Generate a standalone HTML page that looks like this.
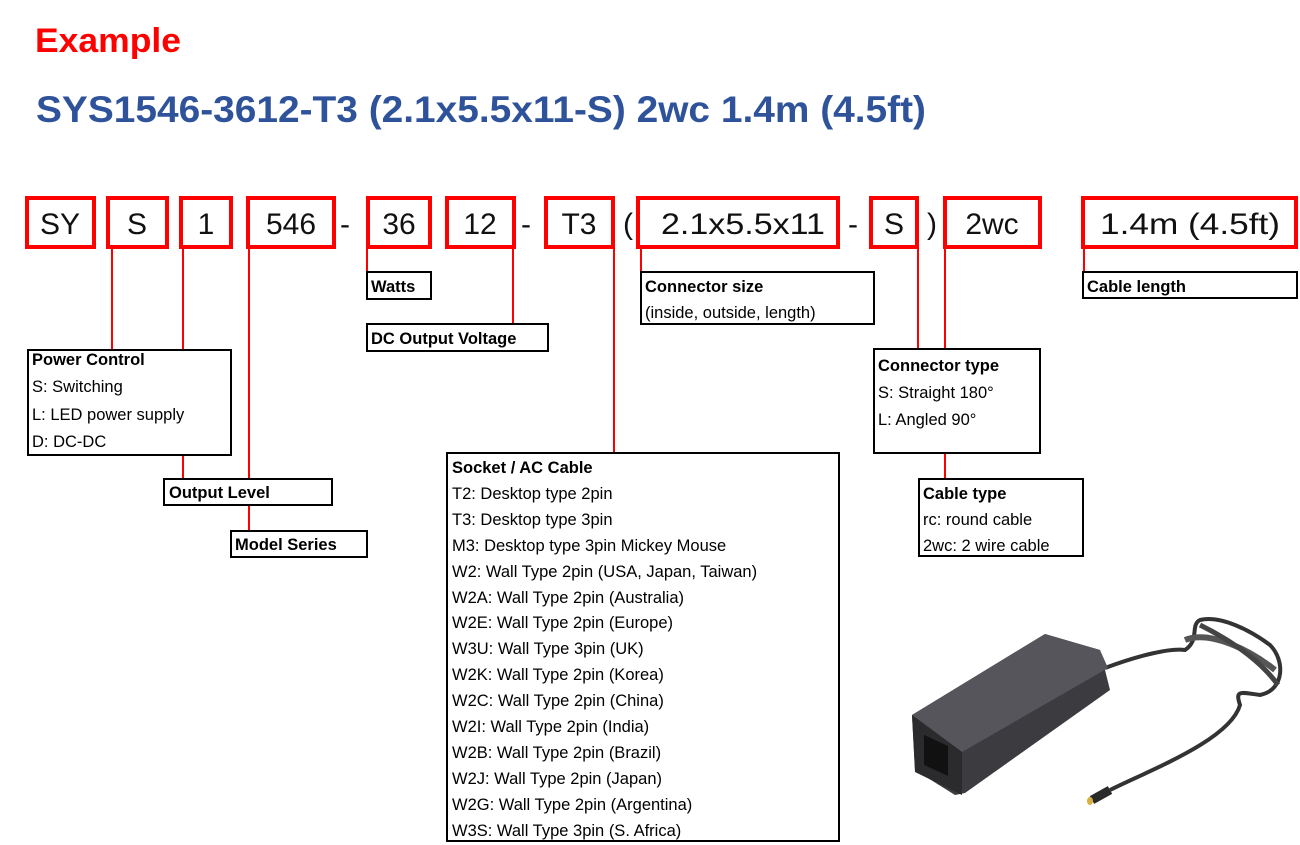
<!DOCTYPE html>
<html><head><meta charset="utf-8"><style>
html,body{margin:0;padding:0;background:#fff;}
svg{display:block;}
text{font-family:"Liberation Sans",Arial,sans-serif;}
</style></head><body>
<svg width="1300" height="845" viewBox="0 0 1300 845" xmlns="http://www.w3.org/2000/svg">
<text x="35" y="52" font-size="34" font-weight="bold" fill="#ff0000" textLength="146" lengthAdjust="spacingAndGlyphs">Example</text>
<text x="36" y="122" font-size="37" font-weight="bold" fill="#2f539b" textLength="890" lengthAdjust="spacingAndGlyphs">SYS1546-3612-T3 (2.1x5.5x11-S) 2wc 1.4m (4.5ft)</text>

<!-- red connector lines -->
<g stroke="#ff0000" stroke-width="2" fill="none">
<line x1="112" y1="247" x2="112" y2="350"/>
<line x1="183" y1="247" x2="183" y2="350"/>
<line x1="183" y1="455" x2="183" y2="479"/>
<line x1="249" y1="247" x2="249" y2="531"/>
<line x1="367" y1="247" x2="367" y2="272"/>
<line x1="513" y1="247" x2="513" y2="324"/>
<line x1="614" y1="247" x2="614" y2="453"/>
<line x1="641" y1="247" x2="641" y2="272"/>
<line x1="918" y1="247" x2="918" y2="349"/>
<line x1="945" y1="247" x2="945" y2="349"/>
<line x1="945" y1="453" x2="945" y2="479"/>
<line x1="1084" y1="247" x2="1084" y2="272"/>
</g>

<!-- red boxes -->
<g stroke="#ff0000" stroke-width="4" fill="#fff">
<rect x="27" y="198" width="67" height="49"/>
<rect x="108" y="198" width="59" height="49"/>
<rect x="181" y="198" width="50" height="49"/>
<rect x="248" y="198" width="86" height="49"/>
<rect x="368" y="198" width="62" height="49"/>
<rect x="447" y="198" width="67" height="49"/>
<rect x="546" y="198" width="67" height="49"/>
<rect x="638" y="198" width="200" height="49"/>
<rect x="871" y="198" width="46" height="49"/>
<rect x="945" y="198" width="95" height="49"/>
<rect x="1083" y="198" width="213" height="49"/>
</g>
<g font-size="30" fill="#111" text-anchor="middle">
<text x="60" y="234">SY</text>
<text x="137" y="234">S</text>
<text x="206" y="234">1</text>
<text x="291" y="234">546</text>
<text x="345" y="234">-</text>
<text x="399" y="234">36</text>
<text x="480" y="234">12</text>
<text x="526" y="234">-</text>
<text x="579" y="234">T3</text>
<text x="628" y="234">(</text>
<text x="743" y="234" textLength="164" lengthAdjust="spacingAndGlyphs">2.1x5.5x11</text>
<text x="853" y="234">-</text>
<text x="894" y="234">S</text>
<text x="932" y="234">)</text>
<text x="992" y="234">2wc</text>
<text x="1190" y="234" textLength="180" lengthAdjust="spacingAndGlyphs">1.4m (4.5ft)</text>
</g>

<!-- black label boxes -->
<g stroke="#000" stroke-width="2" fill="#fff">
<rect x="28" y="350" width="203" height="105"/>
<rect x="164" y="479" width="168" height="26"/>
<rect x="231" y="531" width="136" height="26"/>
<rect x="367" y="272" width="64" height="27"/>
<rect x="367" y="324" width="181" height="27"/>
<rect x="447" y="453" width="392" height="388"/>
<rect x="641" y="272" width="233" height="52"/>
<rect x="874" y="349" width="166" height="104"/>
<rect x="919" y="479" width="164" height="77"/>
<rect x="1083" y="272" width="214" height="26"/>
</g>
<g font-size="16.5" fill="#000">
<text x="32" y="365" font-weight="bold">Power Control</text>
<text x="32" y="392">S: Switching</text>
<text x="32" y="420">L: LED power supply</text>
<text x="32" y="447">D: DC-DC</text>
<text x="169" y="498" font-weight="bold">Output Level</text>
<text x="235" y="550" font-weight="bold">Model Series</text>
<text x="371" y="292" font-weight="bold">Watts</text>
<text x="371" y="344" font-weight="bold">DC Output Voltage</text>
<text x="645" y="292" font-weight="bold">Connector size</text>
<text x="645" y="318">(inside, outside, length)</text>
<text x="878" y="371" font-weight="bold">Connector type</text>
<text x="878" y="398">S: Straight 180°</text>
<text x="878" y="425">L: Angled 90°</text>
<text x="923" y="499" font-weight="bold">Cable type</text>
<text x="923" y="525">rc: round cable</text>
<text x="923" y="551">2wc: 2 wire cable</text>
<text x="1087" y="292" font-weight="bold">Cable length</text>
<text x="452" y="473" font-weight="bold">Socket / AC Cable</text>
<text x="452" y="499">T2: Desktop type 2pin</text>
<text x="452" y="525">T3: Desktop type 3pin</text>
<text x="452" y="551">M3: Desktop type 3pin Mickey Mouse</text>
<text x="452" y="577">W2: Wall Type 2pin (USA, Japan, Taiwan)</text>
<text x="452" y="603">W2A: Wall Type 2pin (Australia)</text>
<text x="452" y="628">W2E: Wall Type 2pin (Europe)</text>
<text x="452" y="654">W3U: Wall Type 3pin (UK)</text>
<text x="452" y="680">W2K: Wall Type 2pin (Korea)</text>
<text x="452" y="706">W2C: Wall Type 2pin (China)</text>
<text x="452" y="732">W2I: Wall Type 2pin (India)</text>
<text x="452" y="758">W2B: Wall Type 2pin (Brazil)</text>
<text x="452" y="784">W2J: Wall Type 2pin (Japan)</text>
<text x="452" y="810">W2G: Wall Type 2pin (Argentina)</text>
<text x="452" y="836">W3S: Wall Type 3pin (S. Africa)</text>
</g>

<!-- adapter -->
<g>
<path d="M1105,668 C1140,655 1170,648 1185,650 C1200,640 1190,625 1200,620 C1220,615 1250,630 1270,645 C1285,660 1285,690 1260,695 C1240,692 1235,690 1240,705 C1230,740 1150,770 1110,790" stroke="#333" stroke-width="4" fill="none"/>
<path d="M1185,640 C1210,630 1250,650 1275,670" stroke="#555" stroke-width="6" fill="none"/>
<path d="M1200,625 C1230,640 1260,660 1278,685" stroke="#444" stroke-width="5" fill="none"/>
<path d="M1110,790 L1092,800" stroke="#2a2a2a" stroke-width="9"/>
<ellipse cx="1090" cy="801" rx="3" ry="4" fill="#d8b040"/>
<path d="M912,715 L1045,634 L1100,650 L1110,690 L965,793 L955,795 L915,770 Z" fill="#3c3c40"/>
<path d="M912,715 L1045,634 L1100,650 L1108,668 L962,752 Z" fill="#55555b"/>
<path d="M912,715 L962,752 L962,795 L915,772 Z" fill="#2b2b2e"/>
<rect x="924" y="737" width="24" height="30" fill="#111" transform="skewY(25) translate(0,-433)"/>
</g>
</svg>
</body></html>
